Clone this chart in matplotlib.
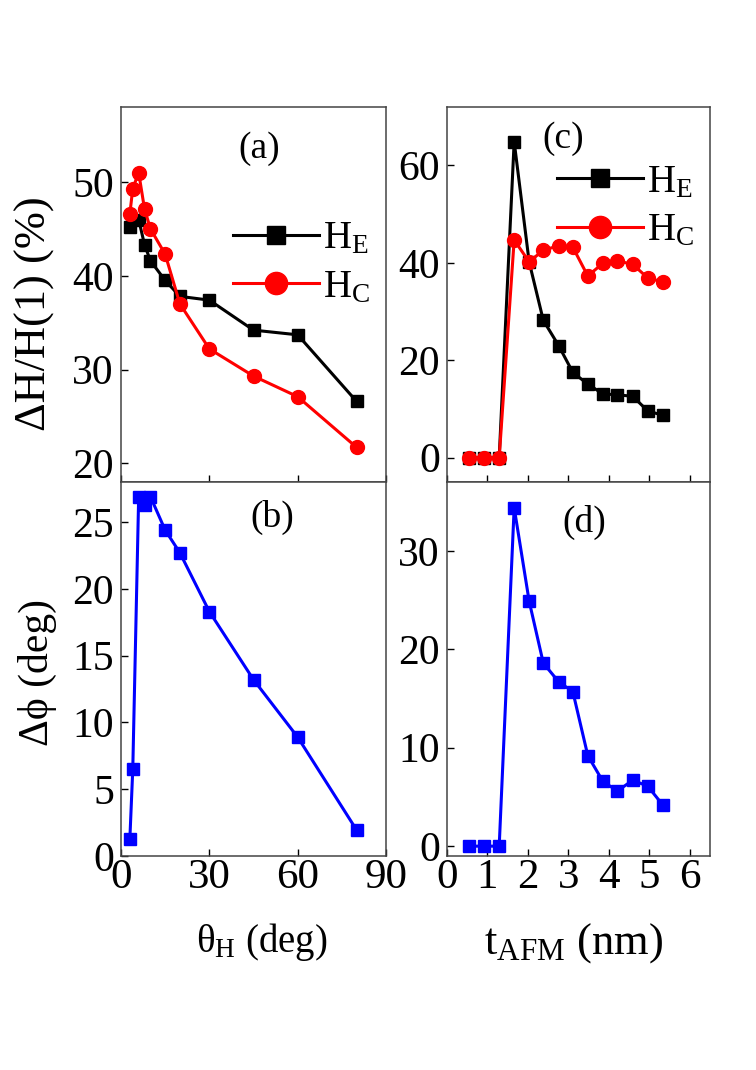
import matplotlib
matplotlib.use("Agg")
import matplotlib.pyplot as plt

plt.rcParams['font.family'] = ['Liberation Serif', 'DejaVu Serif']
plt.rcParams['mathtext.fontset'] = 'custom'
plt.rcParams['mathtext.rm'] = 'Liberation Serif'
plt.rcParams['mathtext.it'] = 'Liberation Serif:italic'
plt.rcParams['font.size'] = 28

# (a) relative change vs field angle
theta_he = [3, 6, 8, 10, 15, 20, 30, 45, 60, 80]
he_a = [45.2, 46.0, 43.3, 41.6, 39.5, 37.8, 37.4, 34.2, 33.7, 26.6]
theta_hc = [3, 4, 6, 8, 10, 15, 20, 30, 45, 60, 80]
hc_a = [46.6, 49.3, 51.0, 47.1, 45.0, 42.3, 37.0, 32.2, 29.3, 27.1, 21.7]

# (b) phase shift vs field angle
theta_b = [3, 4, 6, 8, 10, 15, 20, 30, 45, 60, 80]
dphi_b = [1.25, 6.5, 26.9, 26.3, 26.9, 24.4, 22.7, 18.3, 13.2, 8.9, 1.95]

# (c), (d) vs AFM thickness
t_afm = [0.55, 0.92, 1.29, 1.66, 2.03, 2.38, 2.76, 3.11, 3.48, 3.85, 4.21, 4.59, 4.96, 5.33]
he_c = [0, 0, 0, 64.9, 40.2, 28.2, 23.0, 17.5, 15.1, 13.1, 12.9, 12.6, 9.6, 8.7]
hc_c = [0, 0, 0, 44.7, 40.2, 42.6, 43.5, 43.2, 37.3, 39.9, 40.4, 39.7, 36.9, 36.1]
dphi_d = [0, 0, 0, 34.4, 24.9, 18.6, 16.7, 15.7, 9.2, 6.6, 5.6, 6.7, 6.1, 4.2]

fig = plt.figure(figsize=(7.56, 10.70), dpi=100)
W, H = 756, 1070

def box(x0, y0, x1, y1):
    return [x0 / W, 1 - y1 / H, (x1 - x0) / W, (y1 - y0) / H]

axa = fig.add_axes(box(121, 107, 386, 482))
axb = fig.add_axes(box(121, 482, 386, 856))
axc = fig.add_axes(box(447, 107, 710, 482))
axd = fig.add_axes(box(447, 482, 710, 856))

lw = 2.2
for ax in (axa, axb, axc, axd):
    ax.tick_params(direction='in', length=5, width=1)
    ax.tick_params(axis='y', labelsize=30, pad=5)
    ax.tick_params(axis='x', labelsize=31, pad=2)
    for s in ax.spines.values():
        s.set_color('#444444')
        s.set_linewidth(1.1)

leg_kw = dict(loc='upper left', frameon=False, handlelength=2.2, handletextpad=0.1,
              labelspacing=0.3, borderpad=0, markerscale=1.6, fontsize=28)

axa.plot(theta_he, he_a, '-s', color='black', lw=lw, ms=8.5, label='H$_\\mathrm{E}$')
axa.plot(theta_hc, hc_a, '-o', color='red', lw=lw, ms=10, label='H$_\\mathrm{C}$')
axa.set_xlim(0, 90)
axa.set_ylim(18, 58)
axa.set_xticks([0, 30, 60, 90])
axa.set_yticks([20, 30, 40, 50])
axa.tick_params(labelbottom=False)
axa.text(0.52, 0.89, '(a)', transform=axa.transAxes, ha='center', va='center', fontsize=27)
axa.set_ylabel('ΔH/H(1) (%)', fontsize=32)
axa.yaxis.set_label_coords(-0.25, 0.45)
axa.legend(bbox_to_anchor=(0.35, 0.75), **leg_kw)

axb.plot(theta_b, dphi_b, '-s', color='blue', lw=lw, ms=8.5)
axb.set_xlim(0, 90)
axb.set_ylim(0, 28)
axb.set_xticks([0, 30, 60, 90])
axb.set_yticks([0, 5, 10, 15, 20, 25])
axb.text(0.57, 0.904, '(b)', transform=axb.transAxes, ha='center', va='center', fontsize=27)
axb.set_ylabel('Δϕ (deg)', fontsize=30)
axb.yaxis.set_label_coords(-0.24, 0.49)
axb.set_xlabel('θ$_\\mathrm{H}$ (deg)', fontsize=28)
axb.xaxis.set_label_coords(0.53, -0.175)

axc.plot(t_afm, he_c, '-s', color='black', lw=lw, ms=8.5, label='H$_\\mathrm{E}$')
axc.plot(t_afm, hc_c, '-o', color='red', lw=lw, ms=10, label='H$_\\mathrm{C}$')
axc.set_xlim(0, 6.5)
axc.set_ylim(-5, 72)
axc.set_xticks([0, 1, 2, 3, 4, 5, 6])
axc.set_yticks([0, 20, 40, 60])
axc.tick_params(labelbottom=False)
axc.text(0.44, 0.915, '(c)', transform=axc.transAxes, ha='center', va='center', fontsize=27)
axc.legend(bbox_to_anchor=(0.346, 0.90), **leg_kw)

axd.plot(t_afm, dphi_d, '-s', color='blue', lw=lw, ms=8.5)
axd.set_xlim(0, 6.5)
axd.set_ylim(-1, 37)
axd.set_xticks([0, 1, 2, 3, 4, 5, 6])
axd.set_yticks([0, 10, 20, 30])
axd.text(0.52, 0.893, '(d)', transform=axd.transAxes, ha='center', va='center', fontsize=27)
axd.set_xlabel('t$_\\mathrm{AFM}$ (nm)', fontsize=32)
axd.xaxis.set_label_coords(0.48, -0.175)

fig.savefig('out.png', dpi=100)
